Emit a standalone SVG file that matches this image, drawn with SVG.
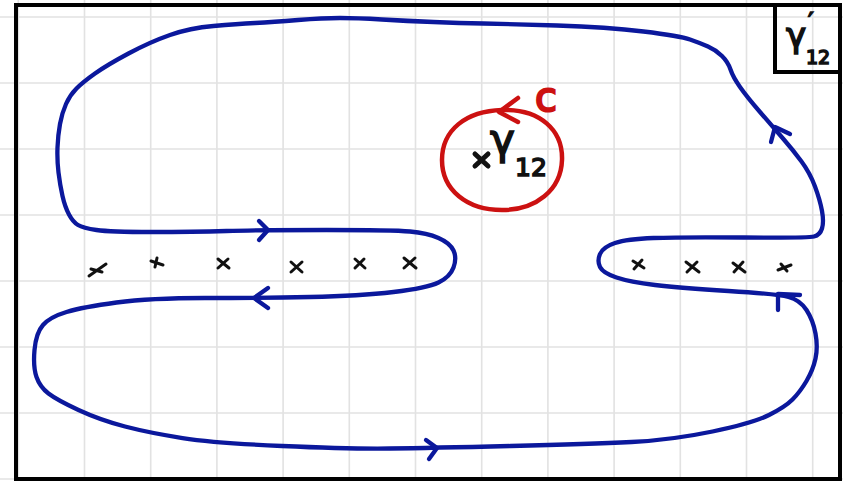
<svg xmlns="http://www.w3.org/2000/svg" width="843" height="481" viewBox="0 0 843 481">
<style>
.grid{stroke:#e2e2e2;stroke-width:1.6;fill:none}
.frame{stroke:#000;stroke-width:4;fill:none}
.curve{stroke:#0b189c;stroke-width:4.3;fill:none;stroke-linecap:round;stroke-linejoin:round}
.red{stroke:#cc1111;stroke-width:4.5;fill:none;stroke-linecap:round;stroke-linejoin:round}
.mark{stroke:#111;stroke-width:3;fill:none;stroke-linecap:round}
.lbl{font-family:"DejaVu Sans","Liberation Sans",sans-serif;fill:#111;stroke:#111;stroke-width:1.6}
</style>
<rect width="843" height="481" fill="#fff"/>
<g id="grid" class="grid">
<path d="M18.3 0V481M84.5 0V481M150.7 0V481M216.9 0V481M283.1 0V481M349.3 0V481M415.5 0V481M481.7 0V481M547.9 0V481M614.1 0V481M680.3 0V481M746.5 0V481M812.7 0V481"/>
<path d="M0 17H843M0 83H843M0 149H843M0 215H843M0 281H843M0 347H843M0 413H843M0 479H843"/>
</g>
<g id="frame">
<rect class="frame" x="16" y="5" width="824" height="474"/>
</g>
<g id="label-gamma12prime">
<path class="frame" d="M775 5V72H840"/>
<text class="lbl" x="786" y="47" font-size="34">γ</text>
<text class="lbl" x="808" y="30" font-size="24">′</text>
<text class="lbl" x="806" y="64" font-size="19">12</text>
</g>
<g id="punctures">
<path class="mark" d="M89 276L106 264M91 269L102 272"/>
<path class="mark" d="M151 261L163 265M157 258L155 267"/>
<path class="mark" d="M218 259L229 268M228 259L218 268"/>
<path class="mark" d="M291 262L302 272M302 262L291 272"/>
<path class="mark" d="M355 259L365 268M364 259L355 268"/>
<path class="mark" d="M404 258L416 268M415 258L404 268"/>
<path class="mark" d="M633 261L644 268M642 260L634 269"/>
<path class="mark" d="M686 262L699 272M697 262L687 272"/>
<path class="mark" d="M733 263L745 272M743 262L734 272"/>
<path class="mark" d="M778 270L791 265M781 264L787 271"/>
</g>
<g id="circle-c">
<path class="red" d="M502 110C540 109 563 130 562 160C561 190 536 210 502 210C467 210 442 190 442 160C442 130 466 111 502 110Z"/>
<path class="red" d="M518 98L499 112L518 122"/>
<text x="535" y="111" font-family="'DejaVu Sans','Liberation Sans',sans-serif" font-size="40" fill="#cc1111" stroke="#cc1111" stroke-width="2.2">c</text>
</g>
<g id="gamma12">
<path class="mark" d="M475 154L488 166M488 154L475 166" style="stroke-width:5"/>
<text class="lbl" x="490" y="154" font-size="42">γ</text>
<text class="lbl" x="515" y="176" font-size="25">12</text>
</g>
<g id="connectors">
<path id="contour" class="curve" d="M78 225Q83 228 96.5 230Q110 232 151.5 232Q193 232 226.5 231Q260 230 326.5 230Q393 230 410 231.5Q427 233 438.5 238Q450 243 453.5 250.5Q457 258 453.5 267.5Q450 277 438.5 282.5Q427 288 393.5 292Q360 296 310 297Q260 298 205 298Q150 298 116.5 302.5Q83 307 66.5 312Q50 317 43 325Q36 333 34.5 350Q33 367 36.5 377Q40 387 48.5 393.5Q57 400 78.5 410Q100 420 125 426.5Q150 433 182.5 438Q215 443 282 446Q349 449 389.5 448.5Q430 448 510.5 446Q591 444 631.5 442Q672 440 712.5 431.5Q753 423 769 415Q785 407 792.5 399.5Q800 392 806.5 381Q813 370 815.5 358.5Q818 347 815.5 333.5Q813 320 806.5 310Q800 300 788.5 297Q777 294 728.5 291Q680 288 655 285Q630 282 616.5 277.5Q603 273 600 267Q597 261 600 254Q603 247 615 243Q627 239 653.5 238Q680 237 744 237.5Q808 238 814 236.5Q820 235 822 228.5Q824 222 822 211Q820 200 815 186.5Q810 173 801.5 161.5Q793 150 783 138.5Q773 127 760 112Q747 97 740 87Q733 77 730.5 69.5Q728 62 722 56Q716 50 708 46.5Q700 43 690 39.5Q680 36 643.5 31.5Q607 27 557 25.5Q507 24 483.5 23.5Q460 23 433.5 22Q407 21 382 19.5Q357 18 340 18Q323 18 298 20Q273 22 255 23Q237 24 213.5 26Q190 28 170 35Q150 42 128.5 53.5Q107 65 95 73.5Q83 82 76.5 88.5Q70 95 66 104Q62 113 60 124Q58 135 57.5 147.5Q57 160 58.5 172.5Q60 185 62.5 196Q65 207 69 214.5Q73 222 78 225Z"/>
<path class="curve" d="M259 221L268 230L259 240"/>
<path class="curve" d="M268 288L254 298L268 308"/>
<path class="curve" d="M426 440L437 448L429 459"/>
<path class="curve" d="M771 142L775 127L790 134"/>
<path class="curve" d="M778 310L778 294L800 295"/>
</g>
</svg>
